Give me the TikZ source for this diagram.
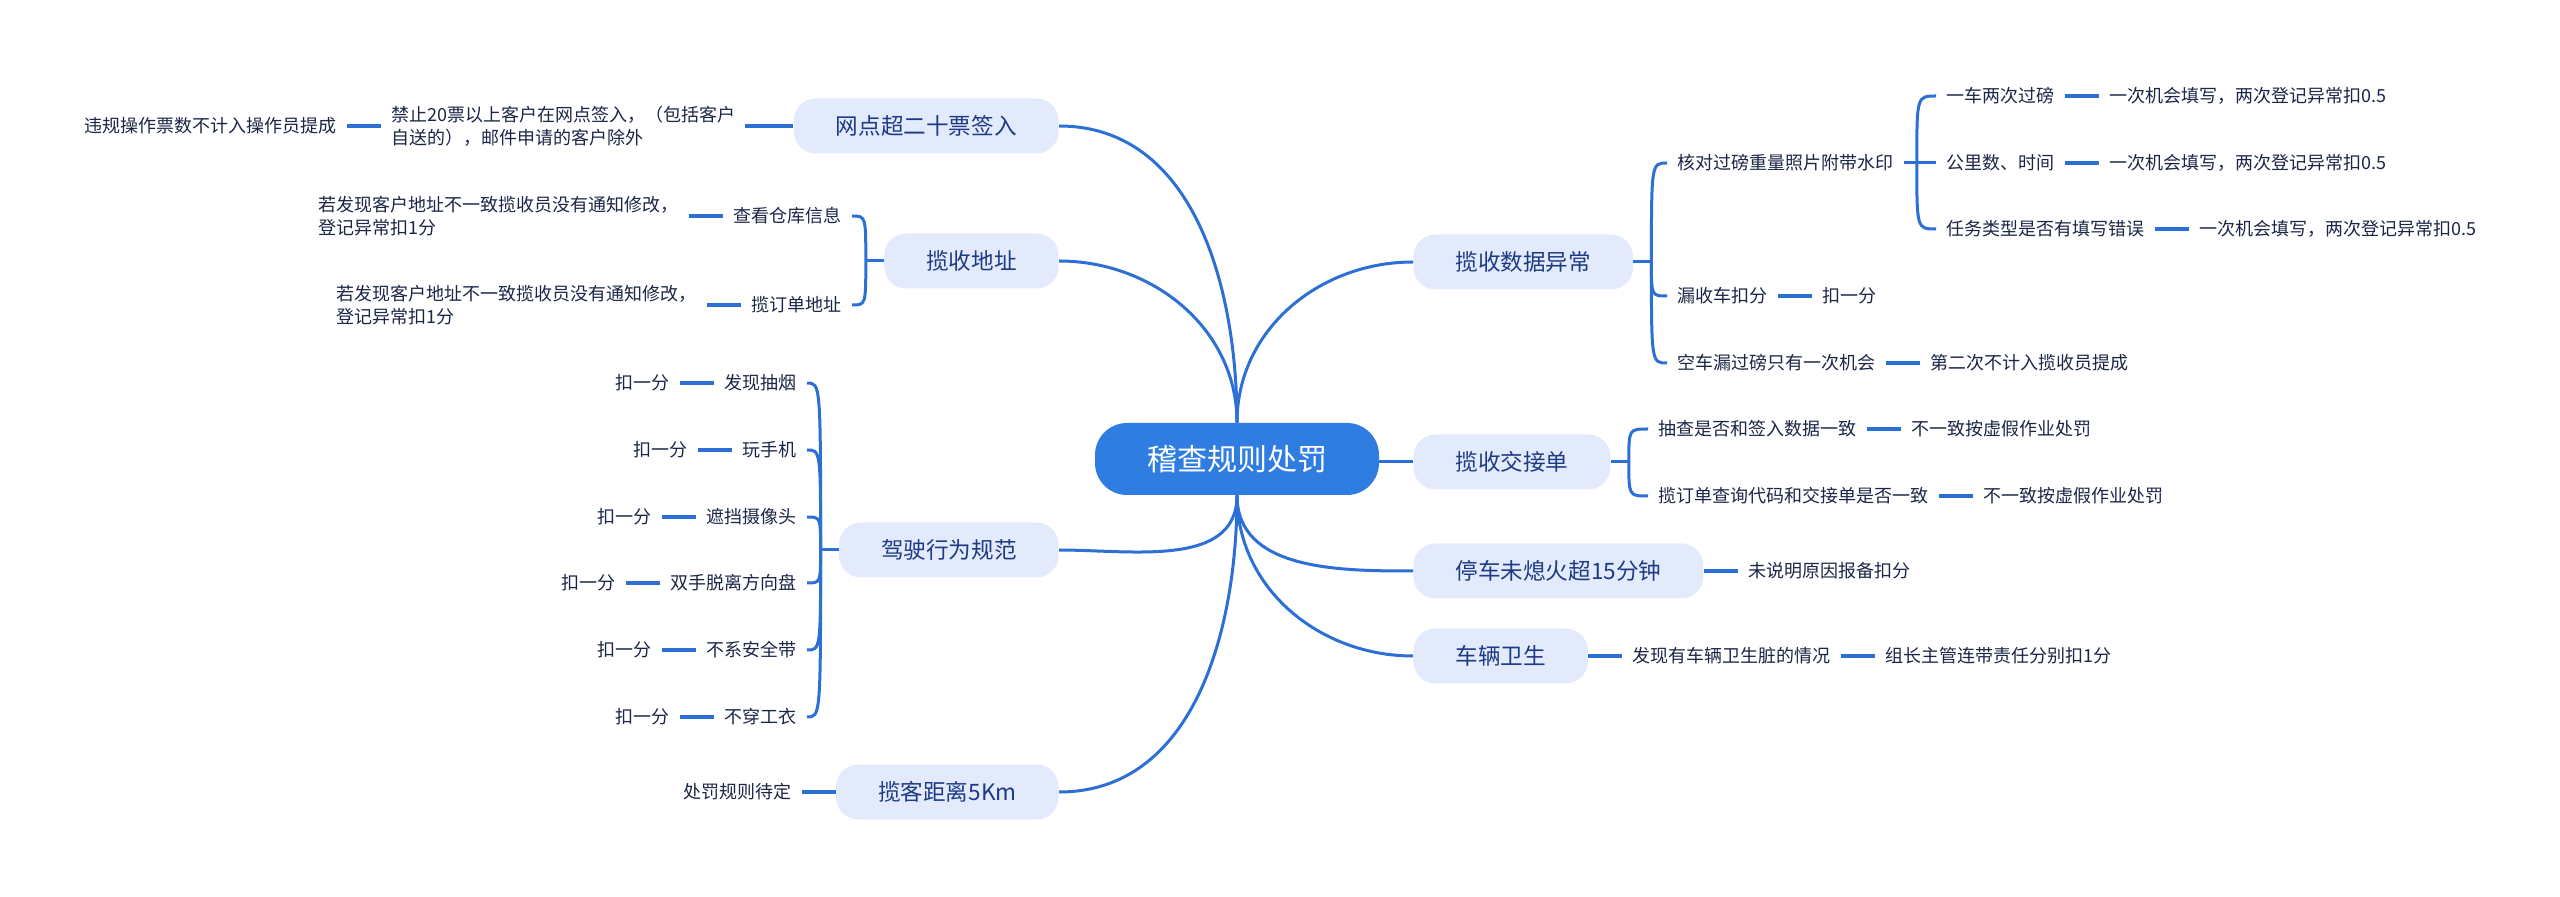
\documentclass[tikz,border=0pt]{standalone}
\usepackage{fontspec}
\setmainfont{Noto Sans CJK SC}
\usepackage{tikz}
\usetikzlibrary{positioning, calc}
\definecolor{rootblue}{HTML}{2F7DE1}
\definecolor{linkblue}{HTML}{2C6FD5}
\definecolor{topicfill}{HTML}{E3EAFB}
\definecolor{topictext}{HTML}{1D3A84}
\definecolor{leaftext}{HTML}{1B2646}

\begin{document}
\begin{tikzpicture}[
  x=0.5pt, y=-0.5pt,
  node distance=17pt,
  root/.style={fill=rootblue,text=white,rounded corners=16pt,font=\fontsize{15}{18}\selectfont,minimum height=36pt,inner xsep=26pt},
  topic/.style={fill=topicfill,text=topictext,rounded corners=11pt,font=\fontsize{11.3}{13.5}\selectfont,minimum height=27.5pt,inner xsep=21pt},
  leaf/.style={text=leaftext,font=\fontsize{9}{11.5}\selectfont,align=left,inner xsep=5pt,inner ysep=2pt},
  link/.style={draw=linkblue,line width=1.5pt},
  tie/.style={draw=linkblue,line width=1.8pt}
]
\useasboundingbox (0,0) rectangle (2560,897);

\node[root] (cen) at (1237,459) {稽查规则处罚};

\node[topic,anchor=east] (wd) at (1059,126) {网点超二十票签入};
\node[topic,anchor=east] (dz) at (1059,261) {揽收地址};
\node[topic,anchor=east] (jsxw) at (1059,550) {驾驶行为规范};
\node[topic,anchor=east] (lkjl) at (1059,792) {揽客距离5Km};
\node[topic,anchor=west] (sjyc) at (1413,262) {揽收数据异常};
\node[topic,anchor=west] (jjd) at (1413,462) {揽收交接单};
\node[topic,anchor=west] (tc) at (1413,571) {停车未熄火超15分钟};
\node[topic,anchor=west] (wsh) at (1413,656) {车辆卫生};

\node[leaf,left=24pt of wd] (wdqr) {禁止20票以上客户在网点签入，（包括客户\\自送的），邮件申请的客户除外};
\node[leaf,left=of wdqr] (wdtc) {违规操作票数不计入操作员提成};

\node[leaf,anchor=east] (ckxx) at (852,216) {查看仓库信息};
\node[leaf,anchor=east] (lddz) at (852,305) {揽订单地址};
\node[leaf,left=of ckxx] (ckkf) {若发现客户地址不一致揽收员没有通知修改，\\登记异常扣1分};
\node[leaf,left=of lddz] (ldkf) {若发现客户地址不一致揽收员没有通知修改，\\登记异常扣1分};

\node[leaf,anchor=east] (cy) at (807,383) {发现抽烟};
\node[leaf,anchor=east] (wsj) at (807,450) {玩手机};
\node[leaf,anchor=east] (zd) at (807,517) {遮挡摄像头};
\node[leaf,anchor=east] (ssfx) at (807,583) {双手脱离方向盘};
\node[leaf,anchor=east] (aqd) at (807,650) {不系安全带};
\node[leaf,anchor=east] (gy) at (807,717) {不穿工衣};
\node[leaf,left=of cy] (cykf) {扣一分};
\node[leaf,left=of wsj] (wsjkf) {扣一分};
\node[leaf,left=of zd] (zdkf) {扣一分};
\node[leaf,left=of ssfx] (ssfxkf) {扣一分};
\node[leaf,left=of aqd] (aqdkf) {扣一分};
\node[leaf,left=of gy] (gykf) {扣一分};

\node[leaf,left=of lkjl] (lkdd) {处罚规则待定};

\node[leaf,anchor=west] (hdgb) at (1667,163) {核对过磅重量照片附带水印};
\node[leaf,anchor=west] (lsc) at (1667,296) {漏收车扣分};
\node[leaf,anchor=west] (kcgb) at (1667,363) {空车漏过磅只有一次机会};
\node[leaf,right=of lsc] (lsckf) {扣一分};
\node[leaf,right=of kcgb] (kctc) {第二次不计入揽收员提成};

\node[leaf,anchor=west] (ycgb) at (1936,96) {一车两次过磅};
\node[leaf,anchor=west] (glsj) at (1936,163) {公里数、时间};
\node[leaf,anchor=west] (rwlx) at (1936,229) {任务类型是否有填写错误};
\node[leaf,right=of ycgb] (ycjh) {一次机会填写，两次登记异常扣0.5};
\node[leaf,right=of glsj] (gljh) {一次机会填写，两次登记异常扣0.5};
\node[leaf,right=of rwlx] (rwjh) {一次机会填写，两次登记异常扣0.5};

\node[leaf,anchor=west] (ccqr) at (1648,429) {抽查是否和签入数据一致};
\node[leaf,anchor=west] (ldcx) at (1648,496) {揽订单查询代码和交接单是否一致};
\node[leaf,right=of ccqr] (ccxj) {不一致按虚假作业处罚};
\node[leaf,right=of ldcx] (ldxj) {不一致按虚假作业处罚};

\node[leaf,right=of tc] (tcbb) {未说明原因报备扣分};
\node[leaf,right=of wsh] (wshz) {发现有车辆卫生脏的情况};
\node[leaf,right=of wshz] (wshkf) {组长主管连带责任分别扣1分};

\coordinate (dzj) at ($(dz.west)+(-18,0)$);
\coordinate (jsxwj) at ($(jsxw.west)+(-18,0)$);
\coordinate (sjycj) at ($(sjyc.east)+(18,0)$);
\coordinate (jjdj) at ($(jjd.east)+(18,0)$);
\coordinate (hdgbj) at ($(hdgb.east)+(13,0)$);

\draw[link] (cen.north) to[out=90,in=0] (wd.east);
\draw[link] (cen.north) to[out=90,in=0] (dz.east);
\draw[link] (cen.north) to[out=90,in=180] (sjyc.west);
\draw[link] (cen.east |- jjd.west) -- (jjd.west);
\draw[link] (cen.south) to[out=-90,in=0] (jsxw.east);
\draw[link] (cen.south) to[out=-90,in=0] (lkjl.east);
\draw[link] (cen.south) to[out=-90,in=180] (tc.west);
\draw[link] (cen.south) to[out=-90,in=180] (wsh.west);

\draw[tie] (wdqr.east) -- (wd.west);
\draw[tie] (wdtc.east) -- (wdqr.west);

\draw[link] (dz.west) -- (dzj);
\draw[link] (dzj) .. controls (dzj |- ckxx.east) .. (ckxx.east);
\draw[link] (dzj) .. controls (dzj |- lddz.east) .. (lddz.east);
\draw[tie] (ckkf.east) -- (ckxx.west);
\draw[tie] (ldkf.east) -- (lddz.west);

\draw[link] (jsxw.west) -- (jsxwj);
\draw[link] (jsxwj) .. controls (jsxwj |- cy.east) .. (cy.east);
\draw[link] (jsxwj) .. controls (jsxwj |- wsj.east) .. (wsj.east);
\draw[link] (jsxwj) .. controls (jsxwj |- zd.east) .. (zd.east);
\draw[link] (jsxwj) .. controls (jsxwj |- ssfx.east) .. (ssfx.east);
\draw[link] (jsxwj) .. controls (jsxwj |- aqd.east) .. (aqd.east);
\draw[link] (jsxwj) .. controls (jsxwj |- gy.east) .. (gy.east);
\draw[tie] (cykf.east) -- (cy.west);
\draw[tie] (wsjkf.east) -- (wsj.west);
\draw[tie] (zdkf.east) -- (zd.west);
\draw[tie] (ssfxkf.east) -- (ssfx.west);
\draw[tie] (aqdkf.east) -- (aqd.west);
\draw[tie] (gykf.east) -- (gy.west);

\draw[tie] (lkdd.east) -- (lkjl.west);

\draw[link] (sjyc.east) -- (sjycj);
\draw[link] (sjycj) .. controls (sjycj |- hdgb.west) .. (hdgb.west);
\draw[link] (sjycj) .. controls (sjycj |- lsc.west) .. (lsc.west);
\draw[link] (sjycj) .. controls (sjycj |- kcgb.west) .. (kcgb.west);
\draw[tie] (lsc.east) -- (lsckf.west);
\draw[tie] (kcgb.east) -- (kctc.west);

\draw[link] (hdgb.east) -- (hdgbj);
\draw[link] (hdgbj) .. controls (hdgbj |- ycgb.west) .. (ycgb.west);
\draw[link] (hdgbj) -- (glsj.west);
\draw[link] (hdgbj) .. controls (hdgbj |- rwlx.west) .. (rwlx.west);
\draw[tie] (ycgb.east) -- (ycjh.west);
\draw[tie] (glsj.east) -- (gljh.west);
\draw[tie] (rwlx.east) -- (rwjh.west);

\draw[link] (jjd.east) -- (jjdj);
\draw[link] (jjdj) .. controls (jjdj |- ccqr.west) .. (ccqr.west);
\draw[link] (jjdj) .. controls (jjdj |- ldcx.west) .. (ldcx.west);
\draw[tie] (ccqr.east) -- (ccxj.west);
\draw[tie] (ldcx.east) -- (ldxj.west);

\draw[tie] (tc.east) -- (tcbb.west);
\draw[tie] (wsh.east) -- (wshz.west);
\draw[tie] (wshz.east) -- (wshkf.west);
\end{tikzpicture}
\end{document}
